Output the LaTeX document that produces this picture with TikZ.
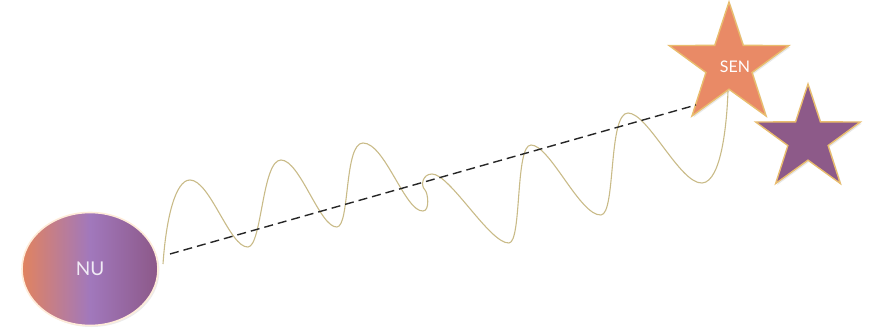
\documentclass[tikz,border=0pt]{standalone}
\usepackage{fontspec}
\setmainfont{Lato}
\usetikzlibrary{shapes.geometric,shadows}
\definecolor{starorange}{HTML}{E98A66}
\definecolor{starpurple}{HTML}{8D5A89}
\definecolor{goldedge}{HTML}{E9BD6E}
\definecolor{wavecol}{HTML}{C9BB88}
\definecolor{nuorange}{HTML}{E1835F}
\definecolor{nulav}{HTML}{A178BC}
\definecolor{nupurple}{HTML}{8C5888}
\tikzset{
  starshape/.style={star, star points=5, star point ratio=2.6, inner sep=0pt,
    draw=goldedge, line width=1.4pt,
    drop shadow={opacity=0.18, shadow xshift=1.5pt, shadow yshift=-1.5pt}},
  wave/.style={draw=wavecol, line width=1.1pt},
  conn/.style={draw=black!85, dash pattern=on 9pt off 5pt, line width=1.4pt},
}
\begin{document}
\begin{tikzpicture}[x=1pt,y=-1pt]
\useasboundingbox (0,0) rectangle (871,334);
% NU ellipse
\node[ellipse, minimum width=136pt, minimum height=113pt, inner sep=0pt,
  left color=nuorange, right color=nupurple, middle color=nulav,
  draw=orange!15!white, line width=1.6pt,
  drop shadow={opacity=0.15, shadow xshift=1.5pt, shadow yshift=-1.5pt},
  text=white!85!nulav, font=\fontsize{19}{22}\selectfont] (nu) at (90,269) {NU};
% stars
\node[starshape, fill=starpurple, minimum size=110pt] (star2) at (808,139) {};
\node[starshape, fill=starorange, minimum size=126pt] (sen) at (729,65) {};
\node[text=white, font=\fontsize{16}{19}\selectfont] (senlabel) at (735,67) {SEN};
% wave
\coordinate (w0) at (163,264);
\coordinate (w1) at (728,91);
\draw[wave] (w0)
  .. controls (166,220) and (175,180) .. (190,180)
  .. controls (210,180) and (230,248) .. (248,247)
  .. controls (262,246) and (262,160) .. (281,160)
  .. controls (300,160) and (320,228) .. (337,227)
  .. controls (350,226) and (344,143) .. (363,143)
  .. controls (385,143) and (405,212) .. (423,211)
  .. controls (430,211) and (428,193) .. (425,190)
  .. controls (420,185) and (423,174) .. (432,174)
  .. controls (450,174) and (490,244) .. (509,243)
  .. controls (522,242) and (515,145) .. (531,145)
  .. controls (550,145) and (580,216) .. (601,215)
  .. controls (616,214) and (608,113) .. (628,113)
  .. controls (648,113) and (680,184) .. (702,183)
  .. controls (722,182) and (727,120) .. (w1);
% dashed connector
\coordinate (d0) at (170,254);
\coordinate (d1) at (696,105);
\draw[conn] (d0) -- (d1);
\end{tikzpicture}
\end{document}
